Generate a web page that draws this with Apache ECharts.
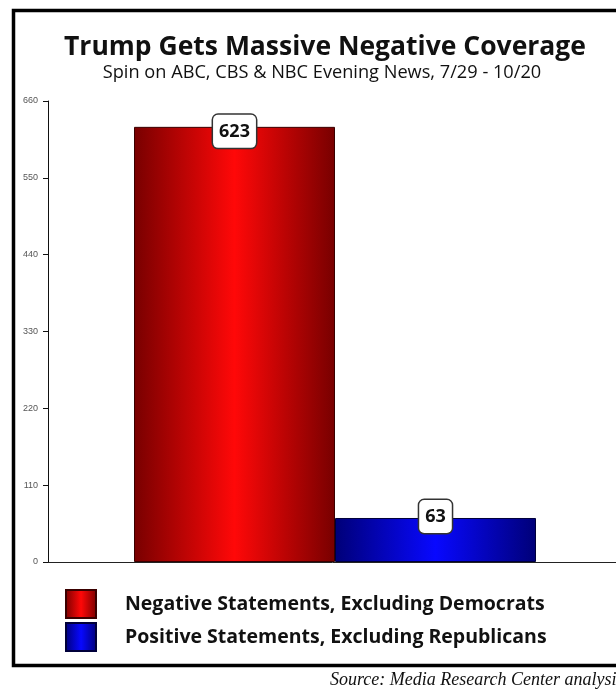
<!DOCTYPE html>
<html>
<head>
<meta charset="utf-8">
<script src="https://cdn.jsdelivr.net/npm/echarts@6/dist/echarts.min.js"></script>
<style>
html,body{margin:0;padding:0;background:#fff;}
#chart{width:616px;height:691px;}
</style>
</head>
<body>
<div id="chart"></div>
<script>
// ---- data ----
const titleText = 'Trump Gets Massive Negative Coverage';
const subtitleText = 'Spin on ABC, CBS & NBC Evening News, 7/29 - 10/20';
const sourceText = 'Source: Media Research Center analysis';
const categories = [''];
const seriesNames = ['Negative Statements, Excluding Democrats', 'Positive Statements, Excluding Republicans'];
const negativeValues = [623];
const positiveValues = [63];
const yTicks = [0, 110, 220, 330, 440, 550, 660];

const fontMain = '"Open Sans", "Noto Sans", sans-serif';

function grad(edge, mid) {
  return new echarts.graphic.LinearGradient(0, 0, 1, 0, [
    {offset: 0, color: edge},
    {offset: 0.5, color: mid},
    {offset: 1, color: edge}
  ]);
}

const chart = echarts.init(document.getElementById('chart'), null, {renderer: 'canvas'});

const labelBase = {
  show: true,
  align: 'center',
  verticalAlign: 'top',
  backgroundColor: '#fff',
  borderColor: '#333',
  borderWidth: 1.5,
  borderRadius: 5,
  padding: [6, 6, 5, 6],
  fontFamily: fontMain,
  fontWeight: 'bold',
  fontSize: 18,
  lineHeight: 22,
  color: '#111'
};

const option = {
  animation: false,
  backgroundColor: '#fff',
  grid: {left: 48, top: 101, width: 574, height: 461, outerBoundsMode: 'none', containLabel: false},
  xAxis: {
    type: 'category',
    data: categories,
    axisLine: {lineStyle: {color: '#222', width: 1}},
    axisTick: {show: false},
    axisLabel: {show: false}
  },
  yAxis: {
    type: 'value',
    min: yTicks[0],
    max: yTicks[yTicks.length - 1],
    interval: 110,
    axisLine: {show: true, lineStyle: {color: '#111', width: 1}},
    axisTick: {show: true, length: 5, lineStyle: {color: '#111'}},
    splitLine: {show: false},
    axisLabel: {fontSize: 9, color: '#555', margin: 10, fontFamily: 'Arial, "Liberation Sans", sans-serif'}
  },
  legend: {
    orient: 'vertical',
    left: 60,
    top: 584,
    itemWidth: 30,
    itemHeight: 28,
    itemGap: 3,
    icon: 'rect',
    textStyle: {fontFamily: fontMain, fontWeight: 'bold', fontSize: 19.5, color: '#111', padding: [0, 0, 0, 24]},
    data: seriesNames
  },
  series: [
    {
      name: seriesNames[0],
      type: 'bar',
      data: negativeValues,
      barWidth: 201,
      barGap: '0%',
      itemStyle: {color: grad('#780000', '#ff0808'), borderColor: '#3a0000', borderWidth: 1},
      label: Object.assign({}, labelBase, {position: ['50%', -12]})
    },
    {
      name: seriesNames[1],
      type: 'bar',
      data: positiveValues,
      barWidth: 201,
      barGap: '0%',
      itemStyle: {color: grad('#000078', '#0808ff'), borderColor: '#00003a', borderWidth: 1},
      label: Object.assign({}, labelBase, {position: ['50%', -18]})
    }
  ],
  graphic: [
    {
      type: 'rect',
      shape: {x: 13.5, y: 10.5, width: 640, height: 655},
      style: {fill: 'none', stroke: '#000', lineWidth: 3.5},
      silent: true,
      z: 100
    },
    {
      type: 'text',
      x: 325, y: 33.5,
      style: {text: titleText, font: 'bold 26.5px ' + fontMain, fill: '#111', textAlign: 'center'}
    },
    {
      type: 'text',
      x: 322, y: 63.5,
      style: {text: subtitleText, font: '18.2px ' + fontMain, fill: '#111', textAlign: 'center'}
    },
    {
      type: 'text',
      x: 330, y: 671,
      style: {text: sourceText, font: 'italic 18px "Liberation Serif", "DejaVu Serif", serif', fill: '#111', textAlign: 'left'}
    }
  ]
};

chart.setOption(option);
</script>
</body>
</html>
